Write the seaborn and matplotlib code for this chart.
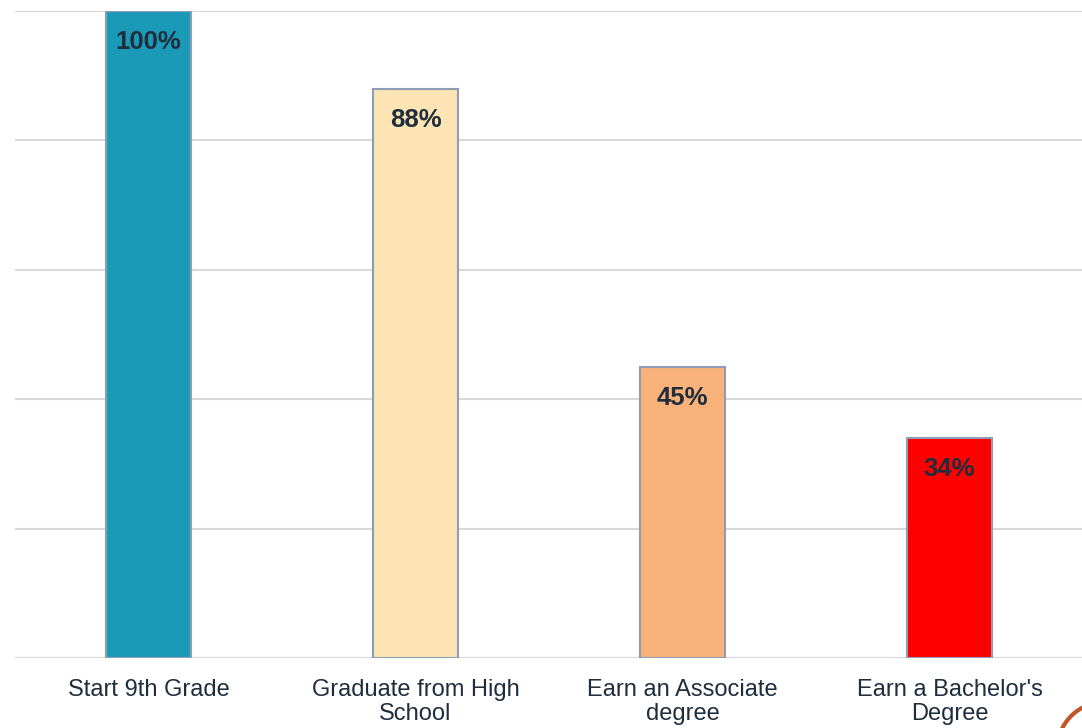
import matplotlib
matplotlib.use("Agg")
import matplotlib.pyplot as plt
import matplotlib.patches as mpatches
import seaborn as sns
import pandas as pd

categories = ["Start 9th Grade", "Graduate from High\nSchool", "Earn an Associate\ndegree", "Earn a Bachelor's\nDegree"]
values = [100, 88, 45, 34]
labels = ["100%", "88%", "45%", "34%"]
colors = ["#1B9AB8", "#FCE4B4", "#F8B27A", "#FF0000"]

sns.set_theme(style="white")
plt.rcParams['font.family'] = ['Liberation Sans', 'DejaVu Sans']

df = pd.DataFrame({"cat": categories, "val": values})

fig = plt.figure(figsize=(10.82, 7.28), dpi=100)
ax = fig.add_axes([15/1082, 70/728, 1068/1082, 647/728])

sns.barplot(data=df, x="cat", y="val", hue="cat", palette=colors, legend=False,
            width=0.315, edgecolor="#8C9DB5", linewidth=1.5, saturation=1, ax=ax, zorder=3)

ax.set_ylim(0, 100)
ax.set_xlim(-0.5, 3.5)
ax.set_yticks([0, 20, 40, 60, 80, 100])
ax.yaxis.grid(True, color="#D9D9D9", linewidth=1.5, zorder=0)
ax.set_axisbelow(True)
ax.tick_params(axis='y', left=False, labelleft=False)
ax.tick_params(axis='x', bottom=False, pad=9, labelsize=17, labelcolor="#1F2D3D")
for t in ax.get_xticklabels():
    t.set_linespacing(1.15)
    t.set_verticalalignment('top')
ax.set_xlabel("")
ax.set_ylabel("")
for s in ax.spines.values():
    s.set_visible(False)

for i, (v, lab) in enumerate(zip(values, labels)):
    ax.annotate(lab, xy=(i, v), xytext=(0, -22.5), textcoords="offset points",
                ha="center", va="center", fontsize=18.5, fontweight="bold", color="#1F2D3D", zorder=5)

circ = mpatches.Circle((11.05, -0.22), 0.48, transform=fig.dpi_scale_trans,
                       fill=False, edgecolor="#C0562A", linewidth=3)
fig.patches.append(circ)

fig.savefig("out.png", dpi=100)
